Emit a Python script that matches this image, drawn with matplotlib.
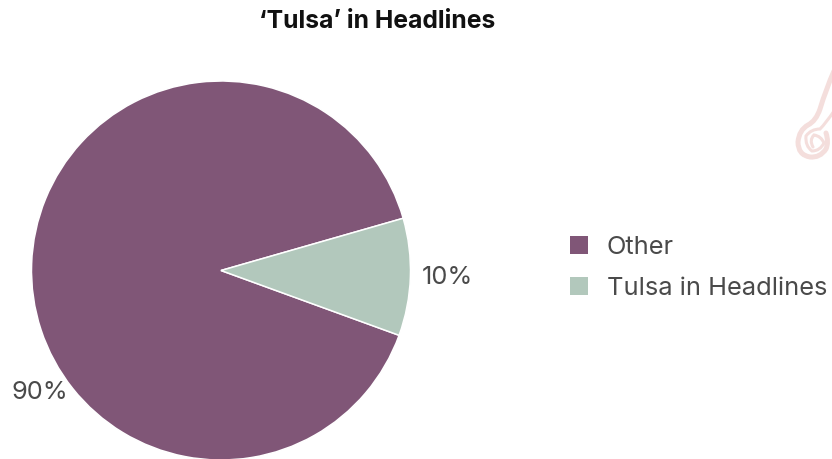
import matplotlib
matplotlib.use("Agg")
import matplotlib.pyplot as plt
from matplotlib.path import Path
from matplotlib.patches import PathPatch, Rectangle

categories = ["Other", "Tulsa in Headlines"]
shares = [90, 10]
slice_colors = ["#805677", "#B2C8BC"]
chart_title = "‘Tulsa’ in Headlines"

plt.rcParams["font.family"] = ["Inter", "DejaVu Sans"]

fig = plt.figure(figsize=(8.32, 4.6), dpi=100, facecolor="white")
ax = fig.add_axes([0, 0, 1, 1])

# Pale curl ornament on the right edge
ornament = "#F4DEDC"
ax.add_patch(PathPatch(
    Path([(834, 72), (826, 90), (820, 110), (816, 122), (808, 126), (799, 131), (798, 143),
          (798, 156), (810, 158), (820, 159), (826, 150), (829, 143), (826, 134)],
         [Path.MOVETO] + [Path.CURVE3] * 12),
    fill=False, edgecolor=ornament, lw=3.6, capstyle="round"))
ax.add_patch(PathPatch(
    Path([(834, 112), (826, 124), (820, 130), (811, 130), (806, 137), (805, 147), (812, 152),
          (820, 152), (824, 144), (821, 137), (814, 136), (809, 141), (813, 148)],
         [Path.MOVETO] + [Path.CURVE3] * 12),
    fill=False, edgecolor=ornament, lw=2.2, capstyle="round"))

# Pie drawn from the shares; the y axis is flipped, so angles run the other way
ax.pie(
    shares, colors=slice_colors, startangle=-16, counterclock=False,
    center=(221, 271.5), radius=189.5, frame=True,
    wedgeprops=dict(edgecolor="white", linewidth=1.1),
)
ax.set_xlim(0, 832)
ax.set_ylim(460, 0)
ax.set_aspect("auto")
ax.axis("off")

text_color = "#4A4A4A"
label_size = 18.3
ax.text(40, 392.5, f"{shares[0]}%", fontsize=label_size, color=text_color, ha="center", va="center")
ax.text(447, 277.5, f"{shares[1]}%", fontsize=label_size, color=text_color, ha="center", va="center")

ax.text(377, 22, chart_title, fontsize=17.8, fontweight="bold", color="#111111", ha="center", va="center")

# Legend swatches and labels
for y, label, color in zip((246, 287), categories, slice_colors):
    ax.add_patch(Rectangle((570, y - 9), 18, 18, facecolor=color, edgecolor="none"))
    ax.text(607, y + 2, label, fontsize=label_size, color=text_color, ha="left", va="center")

fig.savefig("out.png", dpi=100)
